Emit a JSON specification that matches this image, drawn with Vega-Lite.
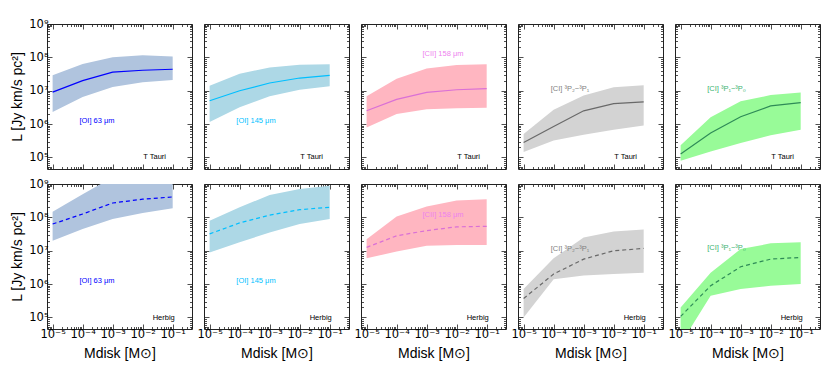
{
"$schema": "https://vega.github.io/schema/vega-lite/v6.json",
"padding": {"left": 10, "top": 17, "right": 5, "bottom": 5},
"background": "white",
"config": {
 "font": "Liberation Sans",
 "view": {"stroke": "#222", "strokeWidth": 1},
 "axis": {"grid": false, "domain": false, "tickCount": 20, "tickColor": "#222", "tickWidth": 0.8,
   "tickSize": {"condition": {"test": "abs(log(datum.value)/LN10-round(log(datum.value)/LN10))<0.001", "value": -5}, "value": -2.5},
   "labelFontSize": 11.5, "labelFont": "DejaVu Sans", "labelColor": "#000", "labelPadding": 4, "labelOverlap": false, "labelFlush": false, "labelBound": false,
   "titleFontSize": 14, "titleFontWeight": "normal", "titleColor": "#000", "titlePadding": 4}
},
"data": {"values": [
 {"p":"OI63_T","m":1e-5,"lo":2.29e6,"mid":9.1e6,"hi":2.9e7},
 {"p":"OI63_T","m":1e-4,"lo":6.5e6,"mid":2.0e7,"hi":6.3e7},
 {"p":"OI63_T","m":1e-3,"lo":1.3e7,"mid":3.6e7,"hi":1.0e8},
 {"p":"OI63_T","m":1e-2,"lo":1.8e7,"mid":4.1e7,"hi":1.15e8},
 {"p":"OI63_T","m":1e-1,"lo":2.1e7,"mid":4.4e7,"hi":1.07e8},
 {"p":"OI145_T","m":1e-5,"lo":1.15e6,"mid":5.0e6,"hi":1.4e7},
 {"p":"OI145_T","m":1e-4,"lo":3.2e6,"mid":1.0e7,"hi":3.2e7},
 {"p":"OI145_T","m":1e-3,"lo":6.8e6,"mid":1.7e7,"hi":5.0e7},
 {"p":"OI145_T","m":1e-2,"lo":1.07e7,"mid":2.4e7,"hi":6.0e7},
 {"p":"OI145_T","m":1e-1,"lo":1.35e7,"mid":2.9e7,"hi":6.2e7},
 {"p":"CII_T","m":1e-5,"lo":7.9e5,"mid":2.5e6,"hi":6.8e6},
 {"p":"CII_T","m":1e-4,"lo":2.0e6,"mid":5.5e6,"hi":2.3e7},
 {"p":"CII_T","m":1e-3,"lo":2.8e6,"mid":8.9e6,"hi":4.6e7},
 {"p":"CII_T","m":1e-2,"lo":3.0e6,"mid":1.07e7,"hi":5.9e7},
 {"p":"CII_T","m":1e-1,"lo":3.1e6,"mid":1.15e7,"hi":6.2e7},
 {"p":"CI21_T","m":1e-5,"lo":1.45e5,"mid":2.8e5,"hi":5.0e5},
 {"p":"CI21_T","m":1e-4,"lo":3.2e5,"mid":8.5e5,"hi":2.7e6},
 {"p":"CI21_T","m":1e-3,"lo":4.8e5,"mid":2.5e6,"hi":7.2e6},
 {"p":"CI21_T","m":1e-2,"lo":6.8e5,"mid":4.1e6,"hi":1.26e7},
 {"p":"CI21_T","m":1e-1,"lo":9.1e5,"mid":4.6e6,"hi":1.45e7},
 {"p":"CI10_T","m":1e-5,"lo":7.9e4,"mid":1.26e5,"hi":2.3e5},
 {"p":"CI10_T","m":1e-4,"lo":1.5e5,"mid":5.4e5,"hi":1.6e6},
 {"p":"CI10_T","m":1e-3,"lo":2.7e5,"mid":1.66e6,"hi":4.8e6},
 {"p":"CI10_T","m":1e-2,"lo":4.6e5,"mid":3.5e6,"hi":7.4e6},
 {"p":"CI10_T","m":1e-1,"lo":6.8e5,"mid":4.4e6,"hi":8.9e6},
 {"p":"OI63_H","m":1e-5,"lo":2.0e7,"mid":6.3e7,"hi":1.48e8},
 {"p":"OI63_H","m":1e-4,"lo":4.5e7,"mid":1.26e8,"hi":4.9e8},
 {"p":"OI63_H","m":1e-3,"lo":8.9e7,"mid":2.7e8,"hi":1.6e9},
 {"p":"OI63_H","m":1e-2,"lo":1.35e8,"mid":3.5e8,"hi":2.0e9},
 {"p":"OI63_H","m":1e-1,"lo":1.86e8,"mid":4.1e8,"hi":2.2e9},
 {"p":"OI145_H","m":1e-5,"lo":8.9e6,"mid":3.2e7,"hi":7.9e7},
 {"p":"OI145_H","m":1e-4,"lo":1.8e7,"mid":6.8e7,"hi":2.0e8},
 {"p":"OI145_H","m":1e-3,"lo":3.5e7,"mid":1.17e8,"hi":4.7e8},
 {"p":"OI145_H","m":1e-2,"lo":6.3e7,"mid":1.7e8,"hi":7.1e8},
 {"p":"OI145_H","m":1e-1,"lo":8.9e7,"mid":2.0e8,"hi":8.9e8},
 {"p":"CII_H","m":1e-5,"lo":5.9e6,"mid":1.26e7,"hi":2.2e7},
 {"p":"CII_H","m":1e-4,"lo":9.5e6,"mid":2.8e7,"hi":1.07e8},
 {"p":"CII_H","m":1e-3,"lo":1.4e7,"mid":4.0e7,"hi":2.1e8},
 {"p":"CII_H","m":1e-2,"lo":1.48e7,"mid":5.2e7,"hi":3.2e8},
 {"p":"CII_H","m":1e-1,"lo":1.48e7,"mid":5.4e7,"hi":3.5e8},
 {"p":"CI21_H","m":1e-5,"lo":1.0e5,"mid":3.7e5,"hi":7.1e5},
 {"p":"CI21_H","m":1e-4,"lo":1.4e6,"mid":2.0e6,"hi":5.9e6},
 {"p":"CI21_H","m":1e-3,"lo":1.8e6,"mid":5.6e6,"hi":2.5e7},
 {"p":"CI21_H","m":1e-2,"lo":2.0e6,"mid":1.0e7,"hi":3.8e7},
 {"p":"CI21_H","m":1e-1,"lo":2.2e6,"mid":1.17e7,"hi":4.3e7},
 {"p":"CI10_H","m":1e-5,"lo":1.6e4,"mid":1.07e5,"hi":2.0e5},
 {"p":"CI10_H","m":1e-4,"lo":4.5e5,"mid":8.9e5,"hi":2.2e6},
 {"p":"CI10_H","m":1e-3,"lo":7.1e5,"mid":3.3e6,"hi":1.12e7},
 {"p":"CI10_H","m":1e-2,"lo":8.9e5,"mid":5.6e6,"hi":1.66e7},
 {"p":"CI10_H","m":1e-1,"lo":1.0e6,"mid":6.3e6,"hi":1.78e7}
]},
"spacing": 3,
"vconcat": [
{"hconcat": [
 {"width":145,"height":145,"layer":[
  {"transform":[{"filter":"datum.p=='OI63_T'"}],"mark":{"type":"area","color":"#b0c4de","clip":true},
   "encoding":{"x":{"field":"m","type":"quantitative","scale":{"type":"log","domain":[6.5e-6,0.44]},"axis":{"orient":"bottom","labels":false,"title":null}},
    "y":{"field":"lo","type":"quantitative","scale":{"type":"log","domain":[4.5e4,1e9]},"axis":{"orient":"left","title":"L [Jy km/s pc²]","labelExpr":"abs(log(datum.value)/LN10-round(log(datum.value)/LN10))<0.001 ? '10'+['⁰','¹','²','³','⁴','⁵','⁶','⁷','⁸','⁹'][round(log(datum.value)/LN10)] : ''"}},
    "y2":{"field":"hi"}}},
  {"transform":[{"filter":"datum.p=='OI63_T'"}],"mark":{"type":"line","color":"#0000ff","strokeWidth":1.2,"clip":true},
   "encoding":{"x":{"field":"m","type":"quantitative","scale":{"type":"log","domain":[6.5e-6,0.44]},"axis":{"orient":"top","labels":false,"title":null}},
    "y":{"field":"mid","type":"quantitative","scale":{"type":"log","domain":[4.5e4,1e9]},"axis":{"orient":"right","labels":false,"title":null}}}},
  {"data":{"values":[{}]},"mark":{"type":"text","color":"#0000ff","fontSize":7.5},
   "encoding":{"x":{"datum":3.0e-4,"type":"quantitative","scale":{"type":"log","domain":[6.5e-6,0.44]},"axis":null},"y":{"datum":1.26e6,"type":"quantitative","scale":{"type":"log","domain":[4.5e4,1e9]},"axis":null},"text":{"value":"[OI] 63 μm"}}},
  {"data":{"values":[{}]},"mark":{"type":"text","color":"#000","fontSize":7.5,"align":"right"},
   "encoding":{"x":{"datum":0.06,"type":"quantitative","scale":{"type":"log","domain":[6.5e-6,0.44]},"axis":null},"y":{"datum":1e5,"type":"quantitative","scale":{"type":"log","domain":[4.5e4,1e9]},"axis":null},"text":{"value":"T Tauri"}}}
 ],"resolve":{"axis":{"x":"independent","y":"independent"}}},
 {"width":145,"height":145,"layer":[
  {"transform":[{"filter":"datum.p=='OI145_T'"}],"mark":{"type":"area","color":"#add8e6","clip":true},
   "encoding":{"x":{"field":"m","type":"quantitative","scale":{"type":"log","domain":[6.5e-6,0.44]},"axis":{"orient":"bottom","labels":false,"title":null}},
    "y":{"field":"lo","type":"quantitative","scale":{"type":"log","domain":[4.5e4,1e9]},"axis":{"orient":"left","labels":false,"title":null}},
    "y2":{"field":"hi"}}},
  {"transform":[{"filter":"datum.p=='OI145_T'"}],"mark":{"type":"line","color":"#00bfff","strokeWidth":1.2,"clip":true},
   "encoding":{"x":{"field":"m","type":"quantitative","scale":{"type":"log","domain":[6.5e-6,0.44]},"axis":{"orient":"top","labels":false,"title":null}},
    "y":{"field":"mid","type":"quantitative","scale":{"type":"log","domain":[4.5e4,1e9]},"axis":{"orient":"right","labels":false,"title":null}}}},
  {"data":{"values":[{}]},"mark":{"type":"text","color":"#00bfff","fontSize":7.5},
   "encoding":{"x":{"datum":3.5e-4,"type":"quantitative","scale":{"type":"log","domain":[6.5e-6,0.44]},"axis":null},"y":{"datum":1.26e6,"type":"quantitative","scale":{"type":"log","domain":[4.5e4,1e9]},"axis":null},"text":{"value":"[OI] 145 μm"}}},
  {"data":{"values":[{}]},"mark":{"type":"text","color":"#000","fontSize":7.5,"align":"right"},
   "encoding":{"x":{"datum":0.06,"type":"quantitative","scale":{"type":"log","domain":[6.5e-6,0.44]},"axis":null},"y":{"datum":1e5,"type":"quantitative","scale":{"type":"log","domain":[4.5e4,1e9]},"axis":null},"text":{"value":"T Tauri"}}}
 ],"resolve":{"axis":{"x":"independent","y":"independent"}}},
 {"width":145,"height":145,"layer":[
  {"transform":[{"filter":"datum.p=='CII_T'"}],"mark":{"type":"area","color":"#ffb6c1","clip":true},
   "encoding":{"x":{"field":"m","type":"quantitative","scale":{"type":"log","domain":[6.5e-6,0.44]},"axis":{"orient":"bottom","labels":false,"title":null}},
    "y":{"field":"lo","type":"quantitative","scale":{"type":"log","domain":[4.5e4,1e9]},"axis":{"orient":"left","labels":false,"title":null}},
    "y2":{"field":"hi"}}},
  {"transform":[{"filter":"datum.p=='CII_T'"}],"mark":{"type":"line","color":"#da70d6","strokeWidth":1.2,"clip":true},
   "encoding":{"x":{"field":"m","type":"quantitative","scale":{"type":"log","domain":[6.5e-6,0.44]},"axis":{"orient":"top","labels":false,"title":null}},
    "y":{"field":"mid","type":"quantitative","scale":{"type":"log","domain":[4.5e4,1e9]},"axis":{"orient":"right","labels":false,"title":null}}}},
  {"data":{"values":[{}]},"mark":{"type":"text","color":"#ee82ee","fontSize":7.5},
   "encoding":{"x":{"datum":3.5e-3,"type":"quantitative","scale":{"type":"log","domain":[6.5e-6,0.44]},"axis":null},"y":{"datum":1.26e8,"type":"quantitative","scale":{"type":"log","domain":[4.5e4,1e9]},"axis":null},"text":{"value":"[CII] 158 μm"}}},
  {"data":{"values":[{}]},"mark":{"type":"text","color":"#000","fontSize":7.5,"align":"right"},
   "encoding":{"x":{"datum":0.06,"type":"quantitative","scale":{"type":"log","domain":[6.5e-6,0.44]},"axis":null},"y":{"datum":1e5,"type":"quantitative","scale":{"type":"log","domain":[4.5e4,1e9]},"axis":null},"text":{"value":"T Tauri"}}}
 ],"resolve":{"axis":{"x":"independent","y":"independent"}}},
 {"width":145,"height":145,"layer":[
  {"transform":[{"filter":"datum.p=='CI21_T'"}],"mark":{"type":"area","color":"#d3d3d3","clip":true},
   "encoding":{"x":{"field":"m","type":"quantitative","scale":{"type":"log","domain":[6.5e-6,0.44]},"axis":{"orient":"bottom","labels":false,"title":null}},
    "y":{"field":"lo","type":"quantitative","scale":{"type":"log","domain":[4.5e4,1e9]},"axis":{"orient":"left","labels":false,"title":null}},
    "y2":{"field":"hi"}}},
  {"transform":[{"filter":"datum.p=='CI21_T'"}],"mark":{"type":"line","color":"#696969","strokeWidth":1.2,"clip":true},
   "encoding":{"x":{"field":"m","type":"quantitative","scale":{"type":"log","domain":[6.5e-6,0.44]},"axis":{"orient":"top","labels":false,"title":null}},
    "y":{"field":"mid","type":"quantitative","scale":{"type":"log","domain":[4.5e4,1e9]},"axis":{"orient":"right","labels":false,"title":null}}}},
  {"data":{"values":[{}]},"mark":{"type":"text","color":"#808080","fontSize":7.5},
   "encoding":{"x":{"datum":3.5e-4,"type":"quantitative","scale":{"type":"log","domain":[6.5e-6,0.44]},"axis":null},"y":{"datum":1.15e7,"type":"quantitative","scale":{"type":"log","domain":[4.5e4,1e9]},"axis":null},"text":{"value":"[CI] ³P₂−³P₁"}}},
  {"data":{"values":[{}]},"mark":{"type":"text","color":"#000","fontSize":7.5,"align":"right"},
   "encoding":{"x":{"datum":0.06,"type":"quantitative","scale":{"type":"log","domain":[6.5e-6,0.44]},"axis":null},"y":{"datum":1e5,"type":"quantitative","scale":{"type":"log","domain":[4.5e4,1e9]},"axis":null},"text":{"value":"T Tauri"}}}
 ],"resolve":{"axis":{"x":"independent","y":"independent"}}},
 {"width":145,"height":145,"layer":[
  {"transform":[{"filter":"datum.p=='CI10_T'"}],"mark":{"type":"area","color":"#98fb98","clip":true},
   "encoding":{"x":{"field":"m","type":"quantitative","scale":{"type":"log","domain":[6.5e-6,0.44]},"axis":{"orient":"bottom","labels":false,"title":null}},
    "y":{"field":"lo","type":"quantitative","scale":{"type":"log","domain":[4.5e4,1e9]},"axis":{"orient":"left","labels":false,"title":null}},
    "y2":{"field":"hi"}}},
  {"transform":[{"filter":"datum.p=='CI10_T'"}],"mark":{"type":"line","color":"#2e8b57","strokeWidth":1.2,"clip":true},
   "encoding":{"x":{"field":"m","type":"quantitative","scale":{"type":"log","domain":[6.5e-6,0.44]},"axis":{"orient":"top","labels":false,"title":null}},
    "y":{"field":"mid","type":"quantitative","scale":{"type":"log","domain":[4.5e4,1e9]},"axis":{"orient":"right","labels":false,"title":null}}}},
  {"data":{"values":[{}]},"mark":{"type":"text","color":"#3cb371","fontSize":7.5},
   "encoding":{"x":{"datum":3.4e-4,"type":"quantitative","scale":{"type":"log","domain":[6.5e-6,0.44]},"axis":null},"y":{"datum":1.15e7,"type":"quantitative","scale":{"type":"log","domain":[4.5e4,1e9]},"axis":null},"text":{"value":"[CI] ³P₁−³P₀"}}},
  {"data":{"values":[{}]},"mark":{"type":"text","color":"#000","fontSize":7.5,"align":"right"},
   "encoding":{"x":{"datum":0.06,"type":"quantitative","scale":{"type":"log","domain":[6.5e-6,0.44]},"axis":null},"y":{"datum":1e5,"type":"quantitative","scale":{"type":"log","domain":[4.5e4,1e9]},"axis":null},"text":{"value":"T Tauri"}}}
 ],"resolve":{"axis":{"x":"independent","y":"independent"}}}
], "spacing": 12, "bounds": "flush"},
{"hconcat": [
 {"width":145,"height":145,"layer":[
  {"transform":[{"filter":"datum.p=='OI63_H'"}],"mark":{"type":"area","color":"#b0c4de","clip":true},
   "encoding":{"x":{"field":"m","type":"quantitative","scale":{"type":"log","domain":[6.5e-6,0.44]},"axis":{"orient":"bottom","title":"Mdisk [M⊙]","labelExpr":"abs(log(datum.value)/LN10-round(log(datum.value)/LN10))<0.001 ? '10'+['⁰','⁻¹','⁻²','⁻³','⁻⁴','⁻⁵','⁻⁶'][-round(log(datum.value)/LN10)] : ''"}},
    "y":{"field":"lo","type":"quantitative","scale":{"type":"log","domain":[4.5e4,1e9]},"axis":{"orient":"left","title":"L [Jy km/s pc²]","labelExpr":"abs(log(datum.value)/LN10-round(log(datum.value)/LN10))<0.001 ? '10'+['⁰','¹','²','³','⁴','⁵','⁶','⁷','⁸','⁹'][round(log(datum.value)/LN10)] : ''"}},
    "y2":{"field":"hi"}}},
  {"transform":[{"filter":"datum.p=='OI63_H'"}],"mark":{"type":"line","color":"#0000ff","strokeWidth":1.2,"strokeDash":[4,3],"clip":true},
   "encoding":{"x":{"field":"m","type":"quantitative","scale":{"type":"log","domain":[6.5e-6,0.44]},"axis":{"orient":"top","labels":false,"title":null}},
    "y":{"field":"mid","type":"quantitative","scale":{"type":"log","domain":[4.5e4,1e9]},"axis":{"orient":"right","labels":false,"title":null}}}},
  {"data":{"values":[{}]},"mark":{"type":"text","color":"#0000ff","fontSize":7.5},
   "encoding":{"x":{"datum":3.0e-4,"type":"quantitative","scale":{"type":"log","domain":[6.5e-6,0.44]},"axis":null},"y":{"datum":1.23e6,"type":"quantitative","scale":{"type":"log","domain":[4.5e4,1e9]},"axis":null},"text":{"value":"[OI] 63 μm"}}},
  {"data":{"values":[{}]},"mark":{"type":"text","color":"#000","fontSize":7.5,"align":"right"},
   "encoding":{"x":{"datum":0.117,"type":"quantitative","scale":{"type":"log","domain":[6.5e-6,0.44]},"axis":null},"y":{"datum":9.5e4,"type":"quantitative","scale":{"type":"log","domain":[4.5e4,1e9]},"axis":null},"text":{"value":"Herbig"}}}
 ],"resolve":{"axis":{"x":"independent","y":"independent"}}},
 {"width":145,"height":145,"layer":[
  {"transform":[{"filter":"datum.p=='OI145_H'"}],"mark":{"type":"area","color":"#add8e6","clip":true},
   "encoding":{"x":{"field":"m","type":"quantitative","scale":{"type":"log","domain":[6.5e-6,0.44]},"axis":{"orient":"bottom","title":"Mdisk [M⊙]","labelExpr":"abs(log(datum.value)/LN10-round(log(datum.value)/LN10))<0.001 ? '10'+['⁰','⁻¹','⁻²','⁻³','⁻⁴','⁻⁵','⁻⁶'][-round(log(datum.value)/LN10)] : ''"}},
    "y":{"field":"lo","type":"quantitative","scale":{"type":"log","domain":[4.5e4,1e9]},"axis":{"orient":"left","labels":false,"title":null}},
    "y2":{"field":"hi"}}},
  {"transform":[{"filter":"datum.p=='OI145_H'"}],"mark":{"type":"line","color":"#00bfff","strokeWidth":1.2,"strokeDash":[4,3],"clip":true},
   "encoding":{"x":{"field":"m","type":"quantitative","scale":{"type":"log","domain":[6.5e-6,0.44]},"axis":{"orient":"top","labels":false,"title":null}},
    "y":{"field":"mid","type":"quantitative","scale":{"type":"log","domain":[4.5e4,1e9]},"axis":{"orient":"right","labels":false,"title":null}}}},
  {"data":{"values":[{}]},"mark":{"type":"text","color":"#00bfff","fontSize":7.5},
   "encoding":{"x":{"datum":3.5e-4,"type":"quantitative","scale":{"type":"log","domain":[6.5e-6,0.44]},"axis":null},"y":{"datum":1.23e6,"type":"quantitative","scale":{"type":"log","domain":[4.5e4,1e9]},"axis":null},"text":{"value":"[OI] 145 μm"}}},
  {"data":{"values":[{}]},"mark":{"type":"text","color":"#000","fontSize":7.5,"align":"right"},
   "encoding":{"x":{"datum":0.117,"type":"quantitative","scale":{"type":"log","domain":[6.5e-6,0.44]},"axis":null},"y":{"datum":9.5e4,"type":"quantitative","scale":{"type":"log","domain":[4.5e4,1e9]},"axis":null},"text":{"value":"Herbig"}}}
 ],"resolve":{"axis":{"x":"independent","y":"independent"}}},
 {"width":145,"height":145,"layer":[
  {"transform":[{"filter":"datum.p=='CII_H'"}],"mark":{"type":"area","color":"#ffb6c1","clip":true},
   "encoding":{"x":{"field":"m","type":"quantitative","scale":{"type":"log","domain":[6.5e-6,0.44]},"axis":{"orient":"bottom","title":"Mdisk [M⊙]","labelExpr":"abs(log(datum.value)/LN10-round(log(datum.value)/LN10))<0.001 ? '10'+['⁰','⁻¹','⁻²','⁻³','⁻⁴','⁻⁵','⁻⁶'][-round(log(datum.value)/LN10)] : ''"}},
    "y":{"field":"lo","type":"quantitative","scale":{"type":"log","domain":[4.5e4,1e9]},"axis":{"orient":"left","labels":false,"title":null}},
    "y2":{"field":"hi"}}},
  {"transform":[{"filter":"datum.p=='CII_H'"}],"mark":{"type":"line","color":"#da70d6","strokeWidth":1.2,"strokeDash":[4,3],"clip":true},
   "encoding":{"x":{"field":"m","type":"quantitative","scale":{"type":"log","domain":[6.5e-6,0.44]},"axis":{"orient":"top","labels":false,"title":null}},
    "y":{"field":"mid","type":"quantitative","scale":{"type":"log","domain":[4.5e4,1e9]},"axis":{"orient":"right","labels":false,"title":null}}}},
  {"data":{"values":[{}]},"mark":{"type":"text","color":"#ee82ee","fontSize":7.5},
   "encoding":{"x":{"datum":3.5e-3,"type":"quantitative","scale":{"type":"log","domain":[6.5e-6,0.44]},"axis":null},"y":{"datum":1.17e8,"type":"quantitative","scale":{"type":"log","domain":[4.5e4,1e9]},"axis":null},"text":{"value":"[CII] 158 μm"}}},
  {"data":{"values":[{}]},"mark":{"type":"text","color":"#000","fontSize":7.5,"align":"right"},
   "encoding":{"x":{"datum":0.117,"type":"quantitative","scale":{"type":"log","domain":[6.5e-6,0.44]},"axis":null},"y":{"datum":9.5e4,"type":"quantitative","scale":{"type":"log","domain":[4.5e4,1e9]},"axis":null},"text":{"value":"Herbig"}}}
 ],"resolve":{"axis":{"x":"independent","y":"independent"}}},
 {"width":145,"height":145,"layer":[
  {"transform":[{"filter":"datum.p=='CI21_H'"}],"mark":{"type":"area","color":"#d3d3d3","clip":true},
   "encoding":{"x":{"field":"m","type":"quantitative","scale":{"type":"log","domain":[6.5e-6,0.44]},"axis":{"orient":"bottom","title":"Mdisk [M⊙]","labelExpr":"abs(log(datum.value)/LN10-round(log(datum.value)/LN10))<0.001 ? '10'+['⁰','⁻¹','⁻²','⁻³','⁻⁴','⁻⁵','⁻⁶'][-round(log(datum.value)/LN10)] : ''"}},
    "y":{"field":"lo","type":"quantitative","scale":{"type":"log","domain":[4.5e4,1e9]},"axis":{"orient":"left","labels":false,"title":null}},
    "y2":{"field":"hi"}}},
  {"transform":[{"filter":"datum.p=='CI21_H'"}],"mark":{"type":"line","color":"#696969","strokeWidth":1.2,"strokeDash":[4,3],"clip":true},
   "encoding":{"x":{"field":"m","type":"quantitative","scale":{"type":"log","domain":[6.5e-6,0.44]},"axis":{"orient":"top","labels":false,"title":null}},
    "y":{"field":"mid","type":"quantitative","scale":{"type":"log","domain":[4.5e4,1e9]},"axis":{"orient":"right","labels":false,"title":null}}}},
  {"data":{"values":[{}]},"mark":{"type":"text","color":"#808080","fontSize":7.5},
   "encoding":{"x":{"datum":3.5e-4,"type":"quantitative","scale":{"type":"log","domain":[6.5e-6,0.44]},"axis":null},"y":{"datum":1.12e7,"type":"quantitative","scale":{"type":"log","domain":[4.5e4,1e9]},"axis":null},"text":{"value":"[CI] ³P₂−³P₁"}}},
  {"data":{"values":[{}]},"mark":{"type":"text","color":"#000","fontSize":7.5,"align":"right"},
   "encoding":{"x":{"datum":0.117,"type":"quantitative","scale":{"type":"log","domain":[6.5e-6,0.44]},"axis":null},"y":{"datum":9.5e4,"type":"quantitative","scale":{"type":"log","domain":[4.5e4,1e9]},"axis":null},"text":{"value":"Herbig"}}}
 ],"resolve":{"axis":{"x":"independent","y":"independent"}}},
 {"width":145,"height":145,"layer":[
  {"transform":[{"filter":"datum.p=='CI10_H'"}],"mark":{"type":"area","color":"#98fb98","clip":true},
   "encoding":{"x":{"field":"m","type":"quantitative","scale":{"type":"log","domain":[6.5e-6,0.44]},"axis":{"orient":"bottom","title":"Mdisk [M⊙]","labelExpr":"abs(log(datum.value)/LN10-round(log(datum.value)/LN10))<0.001 ? '10'+['⁰','⁻¹','⁻²','⁻³','⁻⁴','⁻⁵','⁻⁶'][-round(log(datum.value)/LN10)] : ''"}},
    "y":{"field":"lo","type":"quantitative","scale":{"type":"log","domain":[4.5e4,1e9]},"axis":{"orient":"left","labels":false,"title":null}},
    "y2":{"field":"hi"}}},
  {"transform":[{"filter":"datum.p=='CI10_H'"}],"mark":{"type":"line","color":"#2e8b57","strokeWidth":1.2,"strokeDash":[4,3],"clip":true},
   "encoding":{"x":{"field":"m","type":"quantitative","scale":{"type":"log","domain":[6.5e-6,0.44]},"axis":{"orient":"top","labels":false,"title":null}},
    "y":{"field":"mid","type":"quantitative","scale":{"type":"log","domain":[4.5e4,1e9]},"axis":{"orient":"right","labels":false,"title":null}}}},
  {"data":{"values":[{}]},"mark":{"type":"text","color":"#3cb371","fontSize":7.5},
   "encoding":{"x":{"datum":3.4e-4,"type":"quantitative","scale":{"type":"log","domain":[6.5e-6,0.44]},"axis":null},"y":{"datum":1.17e7,"type":"quantitative","scale":{"type":"log","domain":[4.5e4,1e9]},"axis":null},"text":{"value":"[CI] ³P₁−³P₀"}}},
  {"data":{"values":[{}]},"mark":{"type":"text","color":"#000","fontSize":7.5,"align":"right"},
   "encoding":{"x":{"datum":0.117,"type":"quantitative","scale":{"type":"log","domain":[6.5e-6,0.44]},"axis":null},"y":{"datum":9.5e4,"type":"quantitative","scale":{"type":"log","domain":[4.5e4,1e9]},"axis":null},"text":{"value":"Herbig"}}}
 ],"resolve":{"axis":{"x":"independent","y":"independent"}}}
], "spacing": 12, "bounds": "flush"}
]
}
